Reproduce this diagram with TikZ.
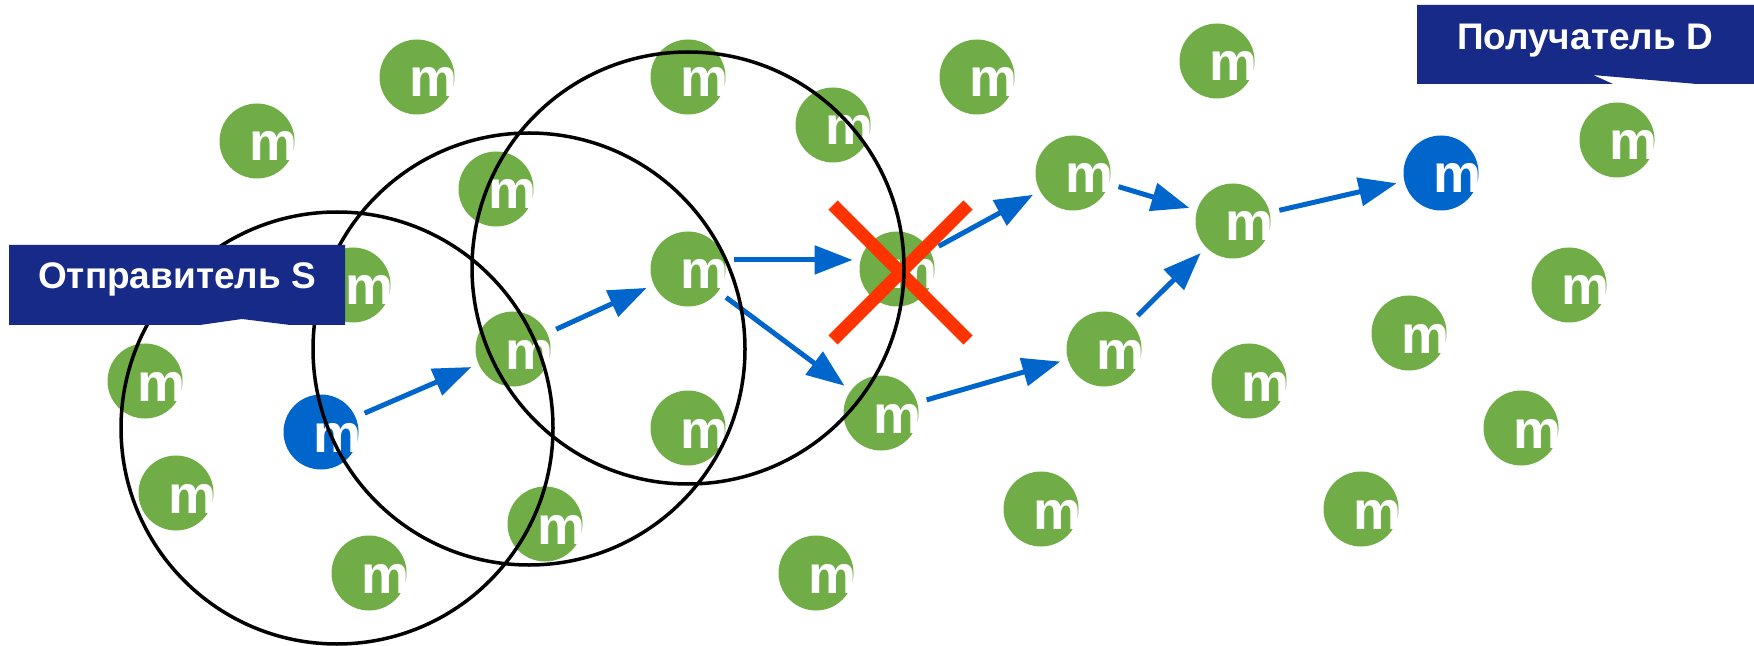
\documentclass[tikz,border=0pt]{standalone}
\usepackage{fontspec}
\setmainfont{Liberation Sans}
\usetikzlibrary{arrows.meta}
\definecolor{mgreen}{HTML}{70AD47}
\definecolor{mblue}{HTML}{0066CC}
\definecolor{lblue}{HTML}{172A87}
\definecolor{xred}{HTML}{FF3300}
\begin{document}
\begin{tikzpicture}[x=0.5pt,y=-0.5pt,
 mnode/.style={circle,minimum size=37.5pt,inner sep=0pt,outer sep=0pt,fill=mgreen,
   path picture={\node[anchor=base west,inner sep=0pt,text=white,font=\fontsize{27pt}{27pt}\selectfont\bfseries] at ([xshift=-10.5pt,yshift=-10pt]path picture bounding box.center) {m};}},
 snode/.style={mnode,fill=mblue},
 ring/.style={circle,draw=black,line width=1.75pt,minimum size=216pt,inner sep=0pt},
 link/.style={draw=mblue,line width=2.5pt,-{Triangle[length=19pt,width=14pt]},shorten >=4pt,shorten <=5pt},
 cross/.style={draw=xred,line width=6.5pt},
 lbl/.style={fill=lblue},
 lbltext/.style={text=white,font=\fontsize{18.5pt}{18.5pt}\selectfont\bfseries,inner sep=0pt,anchor=base}]
\fill[white] (0,0) rectangle (1754,646);
\useasboundingbox (0,0) rectangle (1754,646);
% nodes
\node[mnode] (g1) at (417,77) {};
\node[mnode] (g2) at (257,141) {};
\node[mnode] (g3) at (688,77) {};
\node[mnode] (g4) at (833,125) {};
\node[mnode] (g5) at (977,77) {};
\node[mnode] (g6) at (1217,61) {};
\node[mnode] (g7) at (1617,140) {};
\node[mnode] (g8) at (496,189) {};
\node[mnode] (g9) at (1073,173) {};
\node[mnode] (g10) at (1233,221) {};
\node[snode] (D) at (1441,173) {};
\node[mnode] (g12) at (353,285) {};
\node[mnode] (g13) at (688,269) {};
\node[mnode] (X) at (897,269) {};
\node[mnode] (g15) at (1569,285) {};
\node[mnode] (g16) at (1409,333) {};
\node[mnode] (g17) at (145,381) {};
\node[mnode] (g18) at (513,349) {};
\node[mnode] (g19) at (1104,349) {};
\node[mnode] (g20) at (1249,381) {};
\node[snode] (S) at (321,432) {};
\node[mnode] (g22) at (688,428) {};
\node[mnode] (g23) at (881,413) {};
\node[mnode] (g24) at (1521,428) {};
\node[mnode] (g25) at (176,493) {};
\node[mnode] (g26) at (545,524) {};
\node[mnode] (g27) at (1041,509) {};
\node[mnode] (g28) at (1361,509) {};
\node[mnode] (g29) at (369,573) {};
\node[mnode] (g30) at (816,573) {};
% arrows
\draw[link] (S) -- (g18);
\draw[link] (g18) -- (g13);
\draw[link] (g13.14) -- (X.166);
\draw[link] (g13) -- (g23);
\draw[link] (g23) -- (g19);
\draw[link] (g19) -- (g10);
\draw[link] (X) -- (g9);
\draw[link] (g9) -- (g10);
\draw[link] (g10) -- (D);
% cross
\coordinate (xa) at (833,205);
\coordinate (xb) at (968,340);
\coordinate (xc) at (968,205);
\coordinate (xd) at (833,340);
\draw[cross] (xa) -- (xb);
\draw[cross] (xc) -- (xd);
% rings
\node[ring] (r1) at (337,428) {};
\node[ring] (r2) at (529,349) {};
\node[ring] (r3) at (688,268) {};
% labels
\fill[lbl] (9,245) -- (345,245) -- (345,325) -- (290,325) -- (242,319) -- (200,325) -- (9,325) -- cycle;
\node[lbltext] (lS) at (177,289) {Отправитель S};
\fill[lbl] (1417,5) -- (1754,5) -- (1754,84) -- (1697,84) -- (1593,75) -- (1613,84) -- (1417,84) -- cycle;
\node[lbltext] (lD) at (1585,50) {Получатель D};
\end{tikzpicture}
\end{document}
